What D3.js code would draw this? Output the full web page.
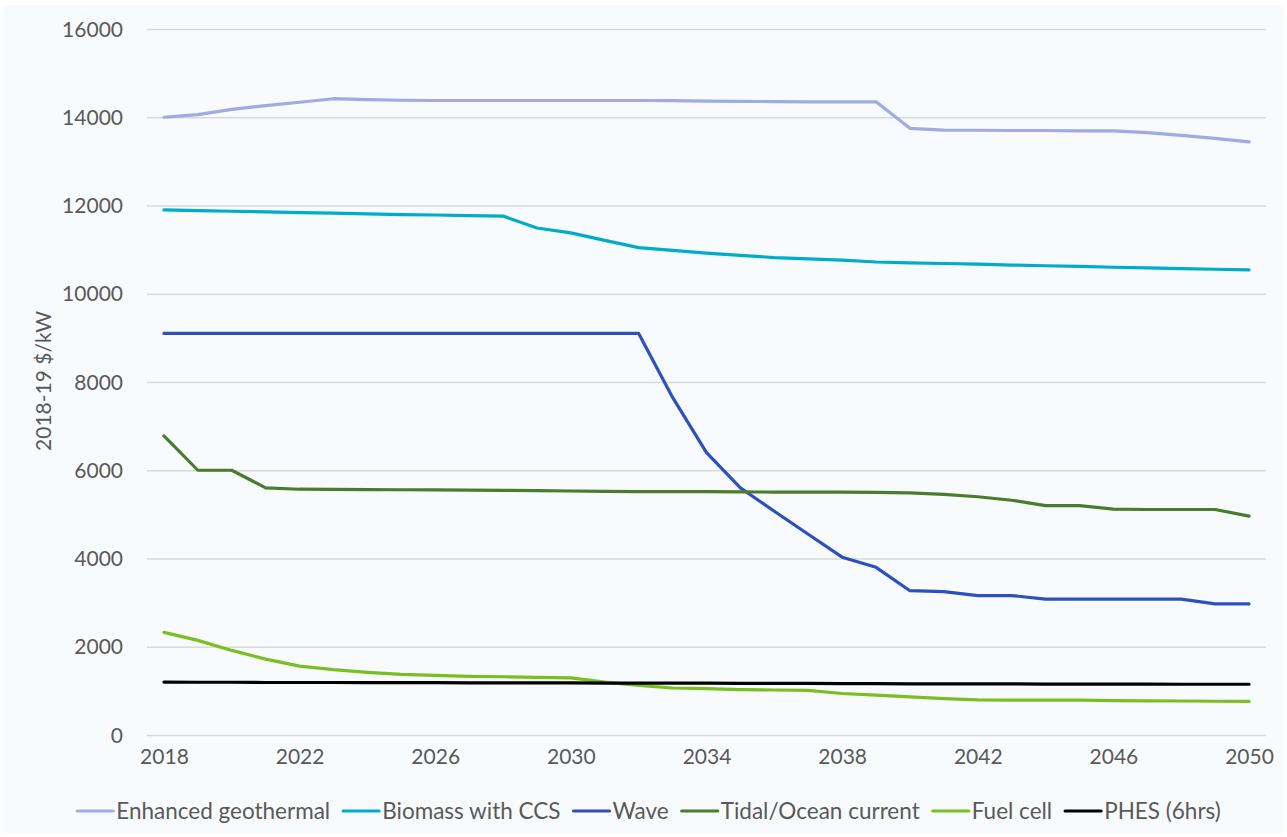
<!DOCTYPE html>
<html>
<head>
<meta charset="utf-8">
<script src="https://cdn.jsdelivr.net/npm/d3@7"></script>
<style>
  html, body { margin: 0; padding: 0; background: #ffffff; }
  svg { display: block; }
  text { font-family: Lato, "Open Sans", sans-serif; fill: #595959; }
</style>
</head>
<body>
<svg id="chart" width="1287" height="837"></svg>
<script>
const years = [2018,2019,2020,2021,2022,2023,2024,2025,2026,2027,2028,2029,2030,2031,2032,2033,2034,2035,2036,2037,2038,2039,2040,2041,2042,2043,2044,2045,2046,2047,2048,2049,2050];
const xTickLabels = [2018,2022,2026,2030,2034,2038,2042,2046,2050];
const yTickValues = [0,2000,4000,6000,8000,10000,12000,14000,16000];

const enhancedGeothermal = [14000,14060,14180,14265,14340,14420,14400,14385,14380,14380,14380,14380,14380,14380,14380,14375,14365,14360,14355,14350,14350,14350,13750,13710,13705,13700,13700,13690,13690,13650,13590,13520,13440];
const biomassCCS = [11900,11885,11870,11855,11840,11825,11810,11795,11785,11770,11760,11490,11380,11210,11045,10985,10920,10870,10820,10790,10760,10720,10700,10685,10670,10650,10635,10620,10600,10585,10570,10555,10540];
const wave = [9100,9100,9100,9100,9100,9100,9100,9100,9100,9100,9100,9100,9100,9100,9100,7650,6400,5600,5070,4550,4030,3800,3270,3250,3160,3160,3080,3080,3080,3080,3080,2970,2970];
const tidal = [6780,6000,6000,5600,5570,5565,5560,5558,5555,5550,5545,5540,5530,5520,5515,5515,5515,5510,5505,5505,5505,5500,5485,5455,5400,5320,5200,5200,5120,5110,5110,5110,4960];
const fuelCell = [2325,2145,1917,1720,1560,1480,1420,1375,1350,1330,1320,1305,1295,1200,1125,1065,1050,1030,1020,1010,940,905,865,825,795,790,790,790,780,775,770,765,760];
const phes = [1200,1195,1195,1190,1190,1190,1185,1185,1185,1180,1180,1180,1180,1175,1175,1175,1175,1170,1170,1170,1165,1165,1160,1160,1160,1160,1155,1155,1155,1155,1150,1150,1150];

const seriesNames = ["Enhanced geothermal","Biomass with CCS","Wave","Tidal/Ocean current","Fuel cell","PHES (6hrs)"];
const seriesValues = [enhancedGeothermal, biomassCCS, wave, tidal, fuelCell, phes];
const seriesColors = ["#a2aae4","#00acc9","#2f4fbd","#4b7b2b","#79bf22","#000000"];
const yTitle = "2018-19 $/kW";

const svg = d3.select("#chart");
const W = 1287, H = 837;
const plot = {left: 147, right: 1266, top: 29, bottom: 735};

svg.append("rect").attr("x", 3).attr("y", 5).attr("width", W - 6).attr("height", H - 9)
  .attr("fill", "#f8fbfd");

const x = d3.scalePoint().domain(years).range([plot.left, plot.right]).padding(0.5);
const y = d3.scaleLinear().domain([0, 16000]).range([plot.bottom, plot.top]);

// Y axis with gridlines
const yAxis = svg.append("g").attr("transform", `translate(${plot.left},0)`)
  .call(d3.axisLeft(y).tickValues(yTickValues).tickSize(-(plot.right - plot.left)).tickPadding(24).tickFormat(d3.format("d")));
yAxis.select(".domain").remove();
yAxis.selectAll(".tick line").attr("stroke", "#d9d9d9").attr("stroke-width", 1.3);
yAxis.selectAll(".tick text").style("font-size", "21px").attr("fill", "#595959").attr("dy", "0.34em");

// X axis labels
const xAxis = svg.append("g").attr("transform", `translate(0,${plot.bottom})`)
  .call(d3.axisBottom(x).tickValues(xTickLabels).tickSize(0).tickPadding(14).tickFormat(d3.format("d")));
xAxis.select(".domain").remove();
xAxis.selectAll(".tick text").style("font-size", "21px").attr("fill", "#595959");

// Y title
svg.append("text")
  .attr("transform", `translate(44,381) rotate(-90)`)
  .attr("text-anchor", "middle")
  .attr("dy", "0.35em")
  .style("font-size", "21px")
  .text(yTitle);

// Lines
const line = d3.line().x((d, i) => x(years[i])).y(d => y(d));
seriesValues.forEach((vals, k) => {
  svg.append("path").datum(vals)
    .attr("d", line)
    .attr("fill", "none")
    .attr("stroke", seriesColors[k])
    .attr("stroke-width", 3.2)
    .attr("stroke-linejoin", "round")
    .attr("stroke-linecap", "round");
});

// Legend
const legend = svg.append("g");
let cx = 0;
const legendY = 811;
seriesNames.forEach((name, k) => {
  const g = legend.append("g").attr("transform", `translate(${cx},0)`);
  g.append("line").attr("x1", 0).attr("x2", 36).attr("y1", legendY).attr("y2", legendY)
    .attr("stroke", seriesColors[k]).attr("stroke-width", 3.2).attr("stroke-linecap", "round");
  const t = g.append("text").attr("x", 39).attr("y", legendY).attr("dy", "0.35em")
    .style("font-size", "22.5px").text(name);
  cx += 39 + t.node().getComputedTextLength() + 13;
});
const totalW = cx - 13;
legend.attr("transform", `translate(${81 + (1217 - 81 - totalW) / 2},0)`);
</script>
</body>
</html>
